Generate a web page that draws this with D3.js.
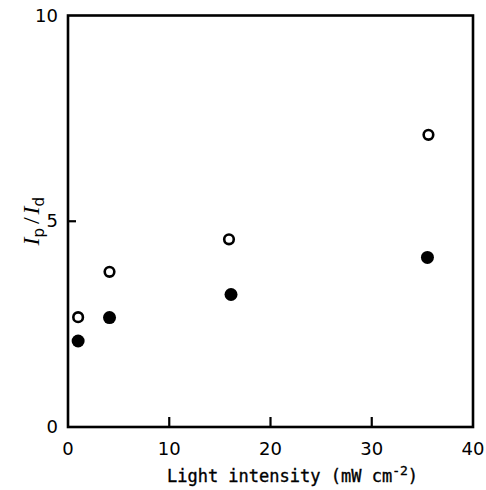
<!DOCTYPE html>
<html>
<head>
<meta charset="utf-8">
<script src="https://cdn.jsdelivr.net/npm/d3@7"></script>
<style>
  body { margin: 0; background: #fff; }
  svg { display: block; }
</style>
</head>
<body>
<div id="chart-area"></div>
<script>
// values
const intensity = [1.0, 4.1, 15.9, 35.6]
const intensityFilled = [1.0, 4.1, 16.1, 35.5]
const openRatio = [2.67, 3.77, 4.56, 7.10]
const filledRatio = [2.09, 2.66, 3.22, 4.12]
const xTicks = [0, 10, 20, 30, 40]
const yTicks = [0, 5, 10]

const W = 486, H = 490
const MARGIN = { LEFT: 68, RIGHT: 13, TOP: 15.5, BOTTOM: 63 }
const WIDTH = W - MARGIN.LEFT - MARGIN.RIGHT
const HEIGHT = H - MARGIN.TOP - MARGIN.BOTTOM

const svg = d3.select("#chart-area").append("svg")
  .attr("width", W)
  .attr("height", H)

const g = svg.append("g")
  .attr("transform", `translate(${MARGIN.LEFT}, ${MARGIN.TOP})`)

const x = d3.scaleLinear().domain([0, 40]).range([0, WIDTH])
const y = d3.scaleLinear().domain([0, 10]).range([HEIGHT, 0])

// frame
g.append("rect")
  .attr("x", 0).attr("y", 0)
  .attr("width", WIDTH).attr("height", HEIGHT)
  .attr("fill", "none")
  .attr("stroke", "#000")
  .attr("stroke-width", 2.6)

// inward ticks
g.selectAll(".xt")
  .data(xTicks.slice(1, -1))
  .enter().append("line")
  .attr("x1", d => x(d)).attr("x2", d => x(d))
  .attr("y1", HEIGHT).attr("y2", HEIGHT - 10)
  .attr("stroke", "#000").attr("stroke-width", 2.2)

g.selectAll(".yt")
  .data(yTicks.slice(1, -1))
  .enter().append("line")
  .attr("x1", 0).attr("x2", 8)
  .attr("y1", d => y(d)).attr("y2", d => y(d))
  .attr("stroke", "#000").attr("stroke-width", 2.2)

// tick labels
g.selectAll(".xl")
  .data(xTicks)
  .enter().append("text")
  .attr("x", d => x(d))
  .attr("y", HEIGHT + 28)
  .attr("text-anchor", "middle")
  .attr("font-family", "DejaVu Sans, sans-serif")
  .attr("font-size", 18)
  .text(d => d)

g.selectAll(".yl")
  .data(yTicks)
  .enter().append("text")
  .attr("x", -10)
  .attr("y", d => y(d) + 6)
  .attr("text-anchor", "end")
  .attr("font-family", "DejaVu Sans, sans-serif")
  .attr("font-size", 18)
  .text(d => d)

// axis titles
const xt = svg.append("text")
  .attr("x", MARGIN.LEFT + x(20) + 22)
  .attr("y", 482)
  .attr("text-anchor", "middle")
  .attr("font-family", "DejaVu Sans Mono, monospace")
  .attr("font-size", 17)
  .attr("stroke", "#000").attr("stroke-width", 0.35)
xt.append("tspan").text("Light intensity (mW cm")
xt.append("tspan").attr("dy", -7).attr("font-size", 13).text("-2")
xt.append("tspan").attr("dy", 7).text(")")

const yt = svg.append("text")
  .attr("transform", `translate(39, ${MARGIN.TOP + y(5)}) rotate(-90)`)
  .attr("text-anchor", "middle")
  .attr("font-family", "Liberation Serif, serif")
  .attr("font-size", 24)
yt.append("tspan").attr("font-style", "italic").text("I")
yt.append("tspan").attr("dy", 5).attr("font-size", 15).attr("font-family", "DejaVu Sans, sans-serif").text("p")
yt.append("tspan").attr("dy", -5).attr("dx", 4).text("/")
yt.append("tspan").attr("dx", 3).attr("font-style", "italic").text("I")
yt.append("tspan").attr("dy", 5).attr("font-size", 15).attr("font-family", "DejaVu Sans, sans-serif").text("d")

// data points
g.selectAll(".open")
  .data(intensity.map((d, i) => ({ x: d, y: openRatio[i] })))
  .enter().append("circle")
  .attr("cx", d => x(d.x))
  .attr("cy", d => y(d.y))
  .attr("r", 4.8)
  .attr("fill", "#fff")
  .attr("stroke", "#000")
  .attr("stroke-width", 2.6)

g.selectAll(".filled")
  .data(intensityFilled.map((d, i) => ({ x: d, y: filledRatio[i] })))
  .enter().append("circle")
  .attr("cx", d => x(d.x))
  .attr("cy", d => y(d.y))
  .attr("r", 6.5)
  .attr("fill", "#000")
</script>
</body>
</html>
